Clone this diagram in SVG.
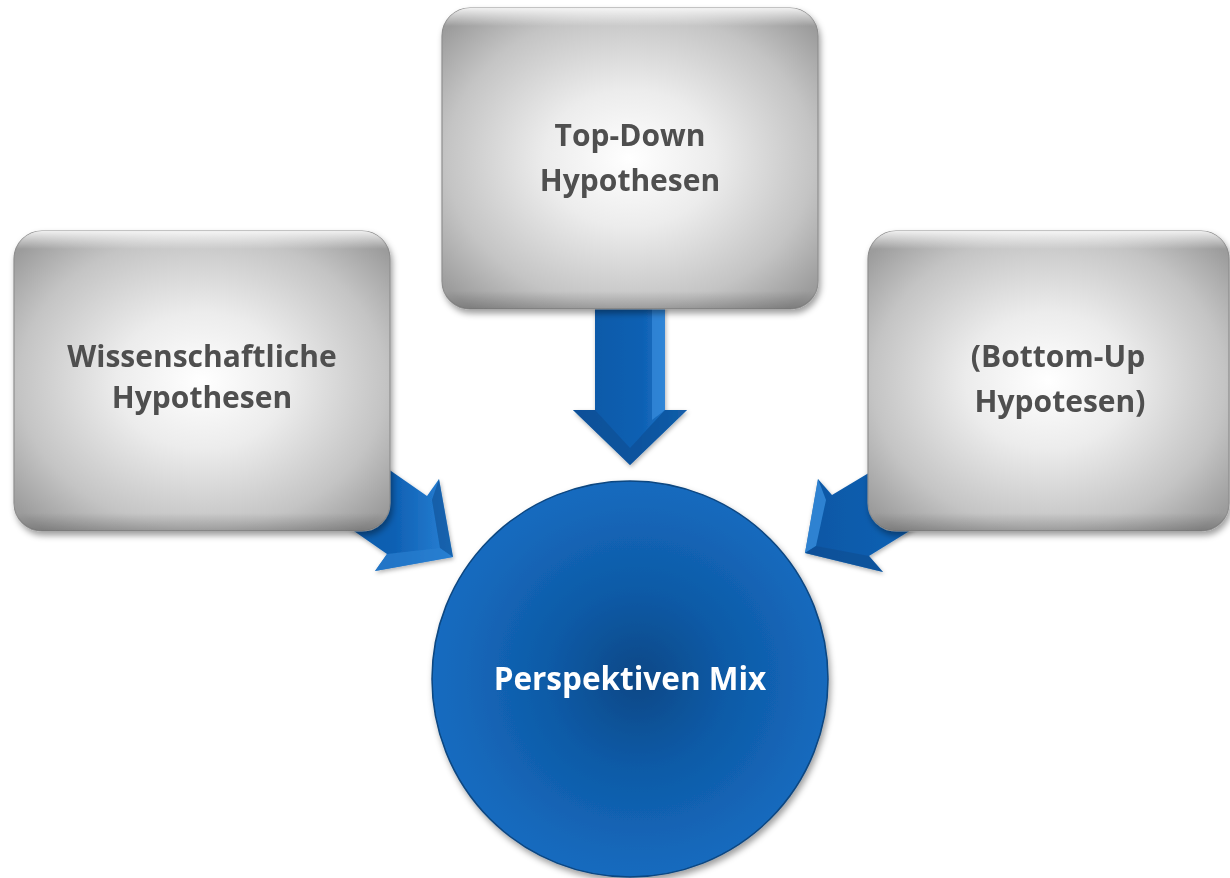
<svg xmlns="http://www.w3.org/2000/svg" width="1230" height="878" viewBox="0 0 1230 878">
  <defs>
    <radialGradient id="boxFill" cx="50%" cy="50%" r="65%">
      <stop offset="0" stop-color="#ffffff"/>
      <stop offset="0.35" stop-color="#ececec"/>
      <stop offset="0.75" stop-color="#c4c4c4"/>
      <stop offset="1" stop-color="#9c9c9c"/>
    </radialGradient>
    <linearGradient id="boxTop" x1="0" y1="0" x2="0" y2="1">
      <stop offset="0" stop-color="#ffffff" stop-opacity="0.85"/>
      <stop offset="0.06" stop-color="#ffffff" stop-opacity="0"/>
      <stop offset="0.94" stop-color="#000000" stop-opacity="0"/>
      <stop offset="1" stop-color="#000000" stop-opacity="0.2"/>
    </linearGradient>
    <radialGradient id="circFill" cx="52%" cy="50%" r="55%">
      <stop offset="0" stop-color="#0a4886"/>
      <stop offset="0.4" stop-color="#0e5aa6"/>
      <stop offset="0.85" stop-color="#1569bc"/>
      <stop offset="1" stop-color="#186dc1"/>
    </radialGradient>
    <linearGradient id="arrowFill" x1="0" y1="0" x2="1" y2="0">
      <stop offset="0" stop-color="#0b57a4"/>
      <stop offset="0.6" stop-color="#0e60b3"/>
      <stop offset="1" stop-color="#2a82d6"/>
    </linearGradient>
    <filter id="shadow" x="-10%" y="-10%" width="125%" height="125%">
      <feDropShadow dx="2" dy="4" stdDeviation="3" flood-color="#000" flood-opacity="0.38"/>
    </filter>
    <filter id="ashadow" x="-20%" y="-20%" width="140%" height="140%">
      <feDropShadow dx="1" dy="2" stdDeviation="2" flood-color="#000" flood-opacity="0.3"/>
    </filter>
  </defs>
  <style>
    .box { fill: url(#boxFill); stroke: #8f8f8f; stroke-width: 1.2; }
    .bevel { fill: url(#boxTop); stroke: none; }
    .lbl { font-family: "Open Sans", "DejaVu Sans", sans-serif; font-weight: bold; font-size: 30px; fill: #4f4f4f; text-anchor: middle; }
    .wlbl { font-family: "Open Sans", "DejaVu Sans", sans-serif; font-weight: bold; font-size: 31.5px; fill: #ffffff; text-anchor: middle; }
    .arrow { fill: url(#arrowFill); }
    .facetL { fill: #084a8e; opacity: 0.55; }
    .facetR { fill: #3d93e3; opacity: 0.6; }
  </style>
  <rect width="1230" height="878" fill="#ffffff"/>

  <g id="connectors">
    <g id="arrow-top" filter="url(#ashadow)">
      <polygon class="arrow" points="595,305 665,305 665,410 687,410 630,465 573,410 595,410"/>
      <polygon class="facetR" points="652,305 665,305 665,410 652,420"/>
      <polygon class="facetL" points="573,410 595,410 630,448 630,465"/>
      <polygon class="facetR" points="687,410 665,410 630,448 630,465" style="fill:#0a4f96;opacity:0.7"/>
    </g>
    <g id="arrow-left" filter="url(#ashadow)">
      <polygon class="arrow" points="345,439 427,496 439,479 453,557 375,571 387,554 305,497"/>
      <polygon class="facetR" points="375,571 387,554 440,548 453,557" style="fill:#2a7fd0;opacity:0.7"/>
      <polygon class="facetL" points="439,479 453,557 440,548 432,500"/>
    </g>
    <g id="arrow-right" filter="url(#ashadow)">
      <polygon class="arrow" points="927,438 832,495 818,479 805,553 883,572 869,556 963,498"/>
      <polygon class="facetR" points="818,479 805,553 816,546 826,500" style="fill:#3a90e0;opacity:0.75"/>
      <polygon class="facetL" points="805,553 883,572 869,556 816,546"/>
    </g>
  </g>

  <g id="node-top" filter="url(#shadow)">
    <rect class="box" x="442" y="8" width="376" height="301" rx="28"/>
    <rect class="bevel" x="442" y="8" width="376" height="301" rx="28"/>
    <text class="lbl" x="630" y="146">Top-Down</text>
    <text class="lbl" x="630" y="191">Hypothesen</text>
  </g>

  <g id="node-left" filter="url(#shadow)">
    <rect class="box" x="14" y="231" width="376" height="300" rx="28"/>
    <rect class="bevel" x="14" y="231" width="376" height="300" rx="28"/>
    <text class="lbl" x="202" y="367">Wissenschaftliche</text>
    <text class="lbl" x="202" y="408">Hypothesen</text>
  </g>

  <g id="node-right" filter="url(#shadow)">
    <rect class="box" x="868" y="231" width="361" height="300" rx="28"/>
    <rect class="bevel" x="868" y="231" width="361" height="300" rx="28"/>
    <text class="lbl" x="1058" y="367">(Bottom-Up</text>
    <text class="lbl" x="1060" y="412">Hypotesen)</text>
  </g>

  <g id="node-center" filter="url(#shadow)">
    <circle cx="630" cy="679" r="198" fill="url(#circFill)" stroke="#0b4680" stroke-width="1.5"/>
    <text class="wlbl" x="630" y="690">Perspektiven Mix</text>
  </g>
</svg>
